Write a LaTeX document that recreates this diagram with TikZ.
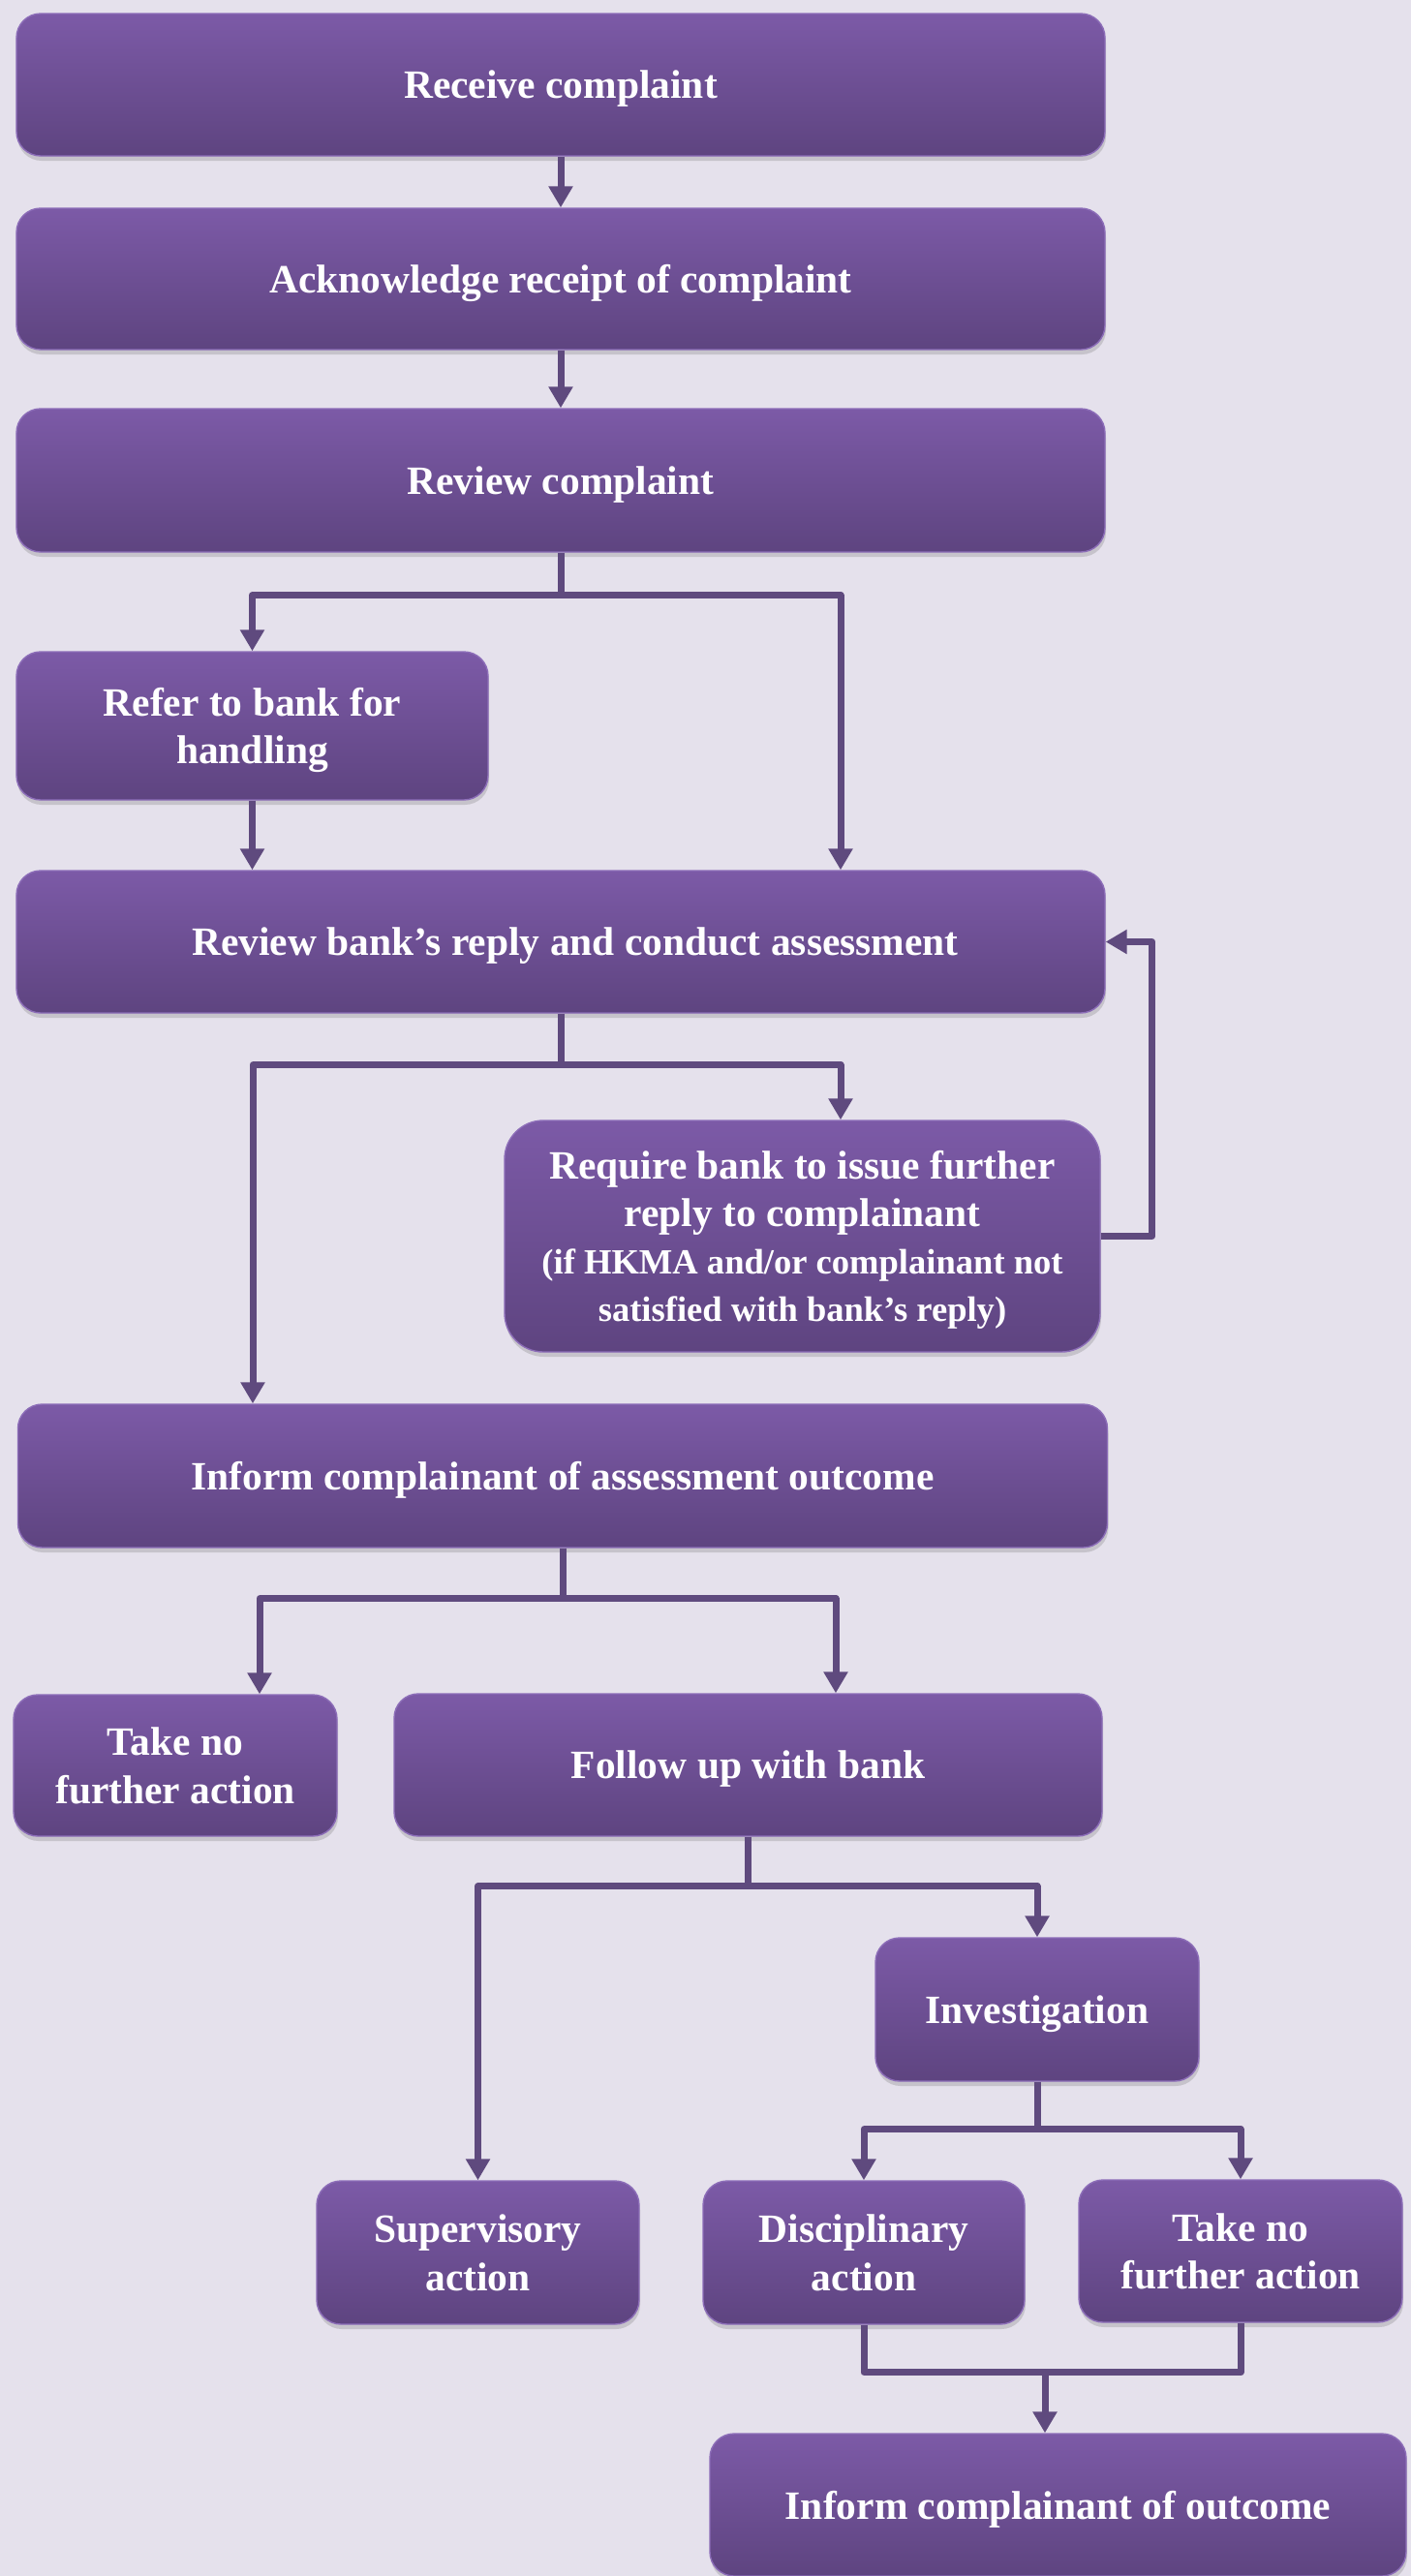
\documentclass[tikz,border=0pt]{standalone}
\usepackage{fontspec}
\setmainfont{Liberation Serif}
\usetikzlibrary{arrows.meta}
\usetikzlibrary{shadows}

\definecolor{pagebg}{HTML}{E5E1EC}
\definecolor{boxtop}{HTML}{7C5AA7}
\definecolor{boxbot}{HTML}{5E4480}
\definecolor{boxrim}{HTML}{8C6DB8}
\definecolor{flowline}{HTML}{5F4A7E}

\tikzset{
  stage/.style={rectangle, rounded corners=0.25cm, draw=boxrim, line width=0.4pt,
    top color=boxtop, bottom color=boxbot, text=white, align=center, inner sep=0pt,
    text depth=-0.14cm, font=\fontsize{11.8}{14}\selectfont\bfseries,
    drop shadow={shadow xshift=0.01cm, shadow yshift=-0.05cm, opacity=0.3}},
  flow/.style={draw=flowline, line width=0.07cm, line join=round,
    -{Triangle[width=0.24cm,length=0.22cm]}},
  branch/.style={draw=flowline, line width=0.07cm, line join=round},
}
\newcommand{\smallnote}{\fontsize{10.4}{14}\selectfont}

\begin{document}
\begin{tikzpicture}
	\useasboundingbox (0,0) rectangle (14.57,-26.60);
	\fill[pagebg] (0,0) rectangle (14.57,-26.60);
	% stages
	\node[stage, minimum width=11.24cm, minimum height=1.47cm] (rcv) at (5.79,-0.875) {Receive complaint};
	\node[stage, minimum width=11.24cm, minimum height=1.46cm] (ack) at (5.79,-2.88) {Acknowledge receipt of complaint};
	\node[stage, minimum width=11.24cm, minimum height=1.48cm] (rev) at (5.79,-4.96) {Review complaint};
	\node[stage, minimum width=4.87cm, minimum height=1.53cm] (refer) at (2.605,-7.495) {Refer to bank for\\handling};
	\node[stage, minimum width=11.24cm, minimum height=1.47cm] (assess) at (5.79,-9.725) {\hspace*{0.3cm}Review bank's reply and conduct assessment};
	\node[stage, rounded corners=0.4cm, minimum width=6.15cm, minimum height=2.39cm] (further) at (8.285,-12.765)
		{Require bank to issue further\\reply to complainant\\{\smallnote (if HKMA and/or complainant not}\\{\smallnote satisfied with bank's reply)}};
	\node[stage, minimum width=11.25cm, minimum height=1.48cm] (inform) at (5.81,-15.24) {Inform complainant of assessment outcome};
	\node[stage, minimum width=3.34cm, minimum height=1.46cm] (nofa) at (1.81,-18.23) {Take no\\further action};
	\node[stage, minimum width=7.31cm, minimum height=1.47cm] (follow) at (7.725,-18.225) {Follow up with bank};
	\node[stage, minimum width=3.34cm, minimum height=1.48cm] (invest) at (10.71,-20.75) {Investigation};
	\node[stage, minimum width=3.33cm, minimum height=1.48cm] (superv) at (4.935,-23.26) {Supervisory\\action};
	\node[stage, minimum width=3.32cm, minimum height=1.48cm] (discip) at (8.92,-23.26) {Disciplinary\\action};
	\node[stage, minimum width=3.34cm, minimum height=1.47cm] (nofb) at (12.81,-23.245) {Take no\\further action};
	\node[stage, minimum width=7.19cm, minimum height=1.47cm] (outcome) at (10.925,-25.865) {Inform complainant of outcome};
	% off-centre drop lines
	\coordinate (rx) at (8.68,0);
	\coordinate (lx) at (2.61,0);
	\coordinate (nx) at (2.68,0);
	\coordinate (fx) at (8.63,0);
	\coordinate (ox) at (10.79,0);
	% connectors
	\draw[flow] (rcv) -- (ack);
	\draw[flow] (ack) -- (rev);
	\draw[branch] (rev.south) -- ++(0,-0.44) coordinate (s1);
	\draw[flow] (s1) -| (refer.north);
	\draw[flow] (s1) -| (assess.north -| rx);
	\draw[flow] (refer.south) -- (refer.south |- assess.north);
	\draw[branch] (assess.south) -- ++(0,-0.53) coordinate (s2);
	\draw[flow] (s2) -| (further.north -| rx);
	\draw[flow] (s2) -| (inform.north -| lx);
	\draw[flow] (further.east) -- ++(0.53,0) |- (assess.east);
	\draw[branch] (inform.south) -- ++(0,-0.52) coordinate (s3);
	\draw[flow] (s3) -| (nofa.north -| nx);
	\draw[flow] (s3) -| (follow.north -| fx);
	\draw[branch] (follow.south) -- ++(0,-0.51) coordinate (s4);
	\draw[flow] (s4) -| (superv.north);
	\draw[flow] (s4) -| (invest.north);
	\draw[branch] (invest.south) -- ++(0,-0.49) coordinate (s5);
	\draw[flow] (s5) -| (discip.north);
	\draw[flow] (s5) -| (nofb.north);
	\draw[branch] (discip.south) -- ++(0,-0.49) coordinate (m1) -| (nofb.south);
	\draw[flow] (m1 -| ox) -- (outcome.north -| ox);
\end{tikzpicture}
\end{document}
